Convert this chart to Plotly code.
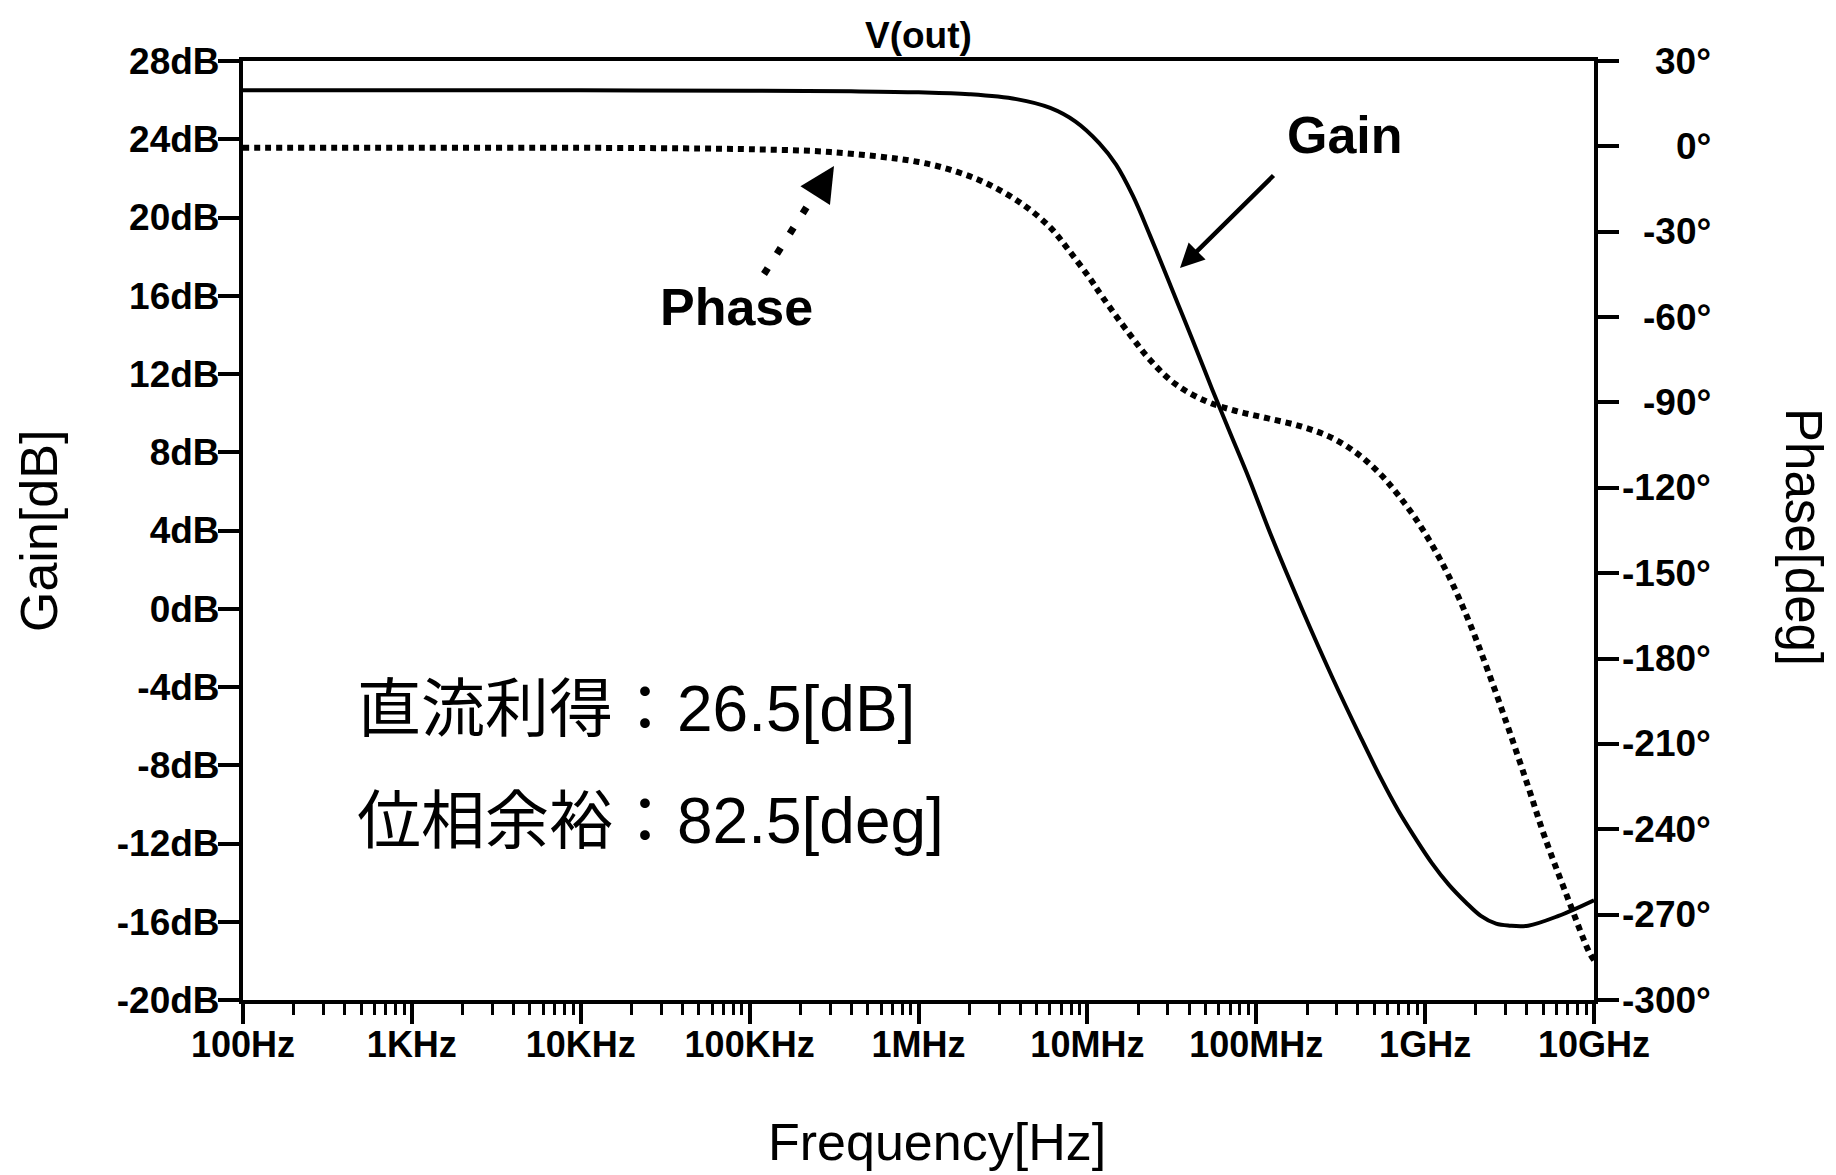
import plotly.graph_objects as go

# ---- data ----
freq_log = [2.0, 3.0, 4.0, 5.0, 5.6, 6.0, 6.3, 6.58, 6.78, 6.93, 7.07, 7.17, 7.27, 7.37,
            7.47, 7.54, 7.62, 7.74, 7.84, 7.96, 8.09, 8.27, 8.45, 8.62, 8.74, 8.84, 8.94,
            9.04, 9.14, 9.24, 9.33, 9.42, 9.5, 9.61, 9.79, 10.0]
gain_db = [26.5, 26.5, 26.5, 26.48, 26.45, 26.4, 26.3, 26.05, 25.6, 24.9, 23.8, 22.7, 21.1, 19.1,
           17.0, 15.5, 13.8, 11.2, 9.1, 6.6, 3.7, 0.0, -3.5, -6.6, -8.7, -10.3, -11.7,
           -13.0, -14.1, -15.0, -15.7, -16.1, -16.2, -16.2, -15.7, -14.9]

phase_log = [2.0, 3.0, 4.0, 4.6, 5.0, 5.48, 6.0, 6.23, 6.42, 6.62, 6.78, 6.89, 7.01, 7.09,
             7.25, 7.37, 7.52, 7.70, 7.88, 8.07, 8.27, 8.45, 8.61, 8.74, 8.84, 8.94, 9.04,
             9.14, 9.26, 9.37, 9.49, 9.61, 9.71, 9.85, 9.97, 10.0]
phase_deg = [-0.5, -0.5, -0.5, -0.7, -1.0, -2.0, -5.5, -9.0, -13.5, -20.5, -28.5, -36.5, -46.0, -53.0,
             -66.0, -75.0, -83.5, -89.5, -93.0, -95.6, -98.5, -102.5, -108.5, -115.5, -122.5, -130.5, -140.0,
             -151.0, -167.0, -184.0, -204.0, -225.0, -243.0, -265.0, -283.0, -286.0]

x_tickvals = [1e2, 1e3, 1e4, 1e5, 1e6, 1e7, 1e8, 1e9, 1e10]
x_ticktext = ["100Hz", "1KHz", "10KHz", "100KHz", "1MHz", "10MHz", "100MHz", "1GHz", "10GHz"]
gain_tickvals = [28, 24, 20, 16, 12, 8, 4, 0, -4, -8, -12, -16, -20]
gain_ticktext = ["28dB", "24dB", "20dB", "16dB", "12dB", "8dB", "4dB", "0dB", "-4dB", "-8dB",
                 "-12dB", "-16dB", "-20dB"]
phase_tickvals = [30, 0, -30, -60, -90, -120, -150, -180, -210, -240, -270, -300]
phase_ticktext = ["30°", "0°", "-30°", "-60°", "-90°", "-120°", "-150°", "-180°", "-210°",
                  "-240°", "-270°", "-300°"]

FONT = "Liberation Sans, Arial, Helvetica, sans-serif"
CJK = "Liberation Sans, Noto Sans CJK JP, sans-serif"

# plot-area geometry (pixels) used to place paper-referenced annotations
L, R, T, B = 243, 242, 61, 175
PW = 1836 - L - R
PH = 1175 - T - B


def px(x):
    return (x - (L - 2)) / PW


def py(y):
    return ((1175 - B + 2) - y) / PH


fig = go.Figure()
fig.add_trace(go.Scatter(
    x=[10 ** v for v in freq_log], y=gain_db, mode="lines",
    line=dict(color="black", width=4, shape="spline", smoothing=1.0),
    yaxis="y", showlegend=False, hoverinfo="skip"))
fig.add_trace(go.Scatter(
    x=[10 ** v for v in phase_log], y=phase_deg, mode="lines",
    line=dict(color="black", width=6, dash="6px,5px", shape="spline", smoothing=1.0),
    yaxis="y2", showlegend=False, hoverinfo="skip"))

tickfont = dict(family=FONT, size=37, color="black", weight="bold")

fig.update_layout(
    width=1836, height=1175,
    margin=dict(l=L, r=R, t=T, b=B),
    paper_bgcolor="white", plot_bgcolor="white",
    showlegend=False,
    xaxis=dict(
        type="log", range=[2, 10], tickmode="array", tickvals=x_tickvals, ticktext=x_ticktext,
        ticks="outside", ticklen=20, tickwidth=4, tickcolor="black",
        showline=True, linewidth=4, linecolor="black", mirror=True,
        showgrid=False, zeroline=False, tickfont=dict(family=FONT, size=36, color="black", weight="bold"),
        ticklabelstandoff=-10,
        minor=dict(ticks="outside", ticklen=11, tickwidth=3, tickcolor="black",
                   dtick="D1", showgrid=False),
    ),
    yaxis=dict(
        range=[-20, 28], tickmode="array", tickvals=gain_tickvals, ticktext=gain_ticktext,
        ticks="outside", ticklen=21, tickwidth=4, tickcolor="black",
        showline=True, linewidth=4, linecolor="black",
        showgrid=False, zeroline=False, tickfont=tickfont, ticklabelstandoff=-9,
    ),
    yaxis2=dict(
        range=[-300, 30], overlaying="y", side="right", tickmode="array",
        tickvals=phase_tickvals, showticklabels=False,
        ticks="outside", ticklen=21, tickwidth=4, tickcolor="black",
        showline=True, linewidth=4, linecolor="black",
        showgrid=False, zeroline=False,
    ),
)

ann = []
# right axis tick labels (right-aligned as in the reference)
for v, t in zip(phase_tickvals, phase_ticktext):
    ann.append(dict(x=px(1711), xref="paper", y=v, yref="y2", text=t, showarrow=False,
                    xanchor="right", yanchor="middle", font=tickfont))
# title
ann.append(dict(x=0.5, xref="paper", y=1.0, yref="paper", yshift=26, text="V(out)",
                showarrow=False, xanchor="center", yanchor="middle",
                font=dict(family=FONT, size=37, color="black", weight="bold")))
# axis titles
ann.append(dict(x=px(37), xref="paper", y=py(533), yref="paper", text="Gain[dB]", textangle=-90,
                showarrow=False, xanchor="center", yanchor="middle",
                font=dict(family=FONT, size=52, color="black")))
ann.append(dict(x=px(1802), xref="paper", y=py(539), yref="paper", text="Phase[deg]", textangle=90,
                showarrow=False, xanchor="center", yanchor="middle",
                font=dict(family=FONT, size=51, color="black")))
ann.append(dict(x=px(935), xref="paper", y=py(1144), yref="paper", text="Frequency[Hz]",
                showarrow=False, xanchor="center", yanchor="middle",
                font=dict(family=FONT, size=52, color="black")))
# curve labels
ann.append(dict(x=px(1343), xref="paper", y=py(137), yref="paper", text="Gain", showarrow=False,
                xanchor="center", yanchor="middle",
                font=dict(family=FONT, size=52, color="black", weight="bold")))
ann.append(dict(x=px(734), xref="paper", y=py(309), yref="paper", text="Phase", showarrow=False,
                xanchor="center", yanchor="middle",
                font=dict(family=FONT, size=52, color="black", weight="bold")))
# gain arrow
ann.append(dict(x=px(1178), xref="paper", y=py(270), yref="paper", text="", showarrow=True,
                ax=95, ay=-94, axref="pixel", ayref="pixel",
                arrowhead=2, arrowwidth=4.5, arrowsize=1.07, arrowcolor="black"))
# phase arrow head
ann.append(dict(x=px(832), xref="paper", y=py(168), yref="paper", text="", showarrow=True,
                ax=-14, ay=22, axref="pixel", ayref="pixel",
                arrowhead=2, arrowwidth=2, arrowsize=3.5, arrowcolor="black"))
# annotation text
ann.append(dict(x=px(353), xref="paper", y=py(711), yref="paper", text="直流利得：26.5[dB]",
                showarrow=False, xanchor="left", yanchor="middle",
                font=dict(family=CJK, size=64, color="black")))
ann.append(dict(x=px(353), xref="paper", y=py(823), yref="paper", text="位相余裕：82.5[deg]",
                showarrow=False, xanchor="left", yanchor="middle",
                font=dict(family=CJK, size=64, color="black")))
fig.update_layout(annotations=ann)

# dotted shaft of phase arrow
fig.add_shape(type="line", xref="paper", yref="paper",
              x0=px(762), y0=py(276), x1=px(806), y1=py(207),
              line=dict(color="black", width=7, dash="7px,17px"))

fig.write_html("out.html")
